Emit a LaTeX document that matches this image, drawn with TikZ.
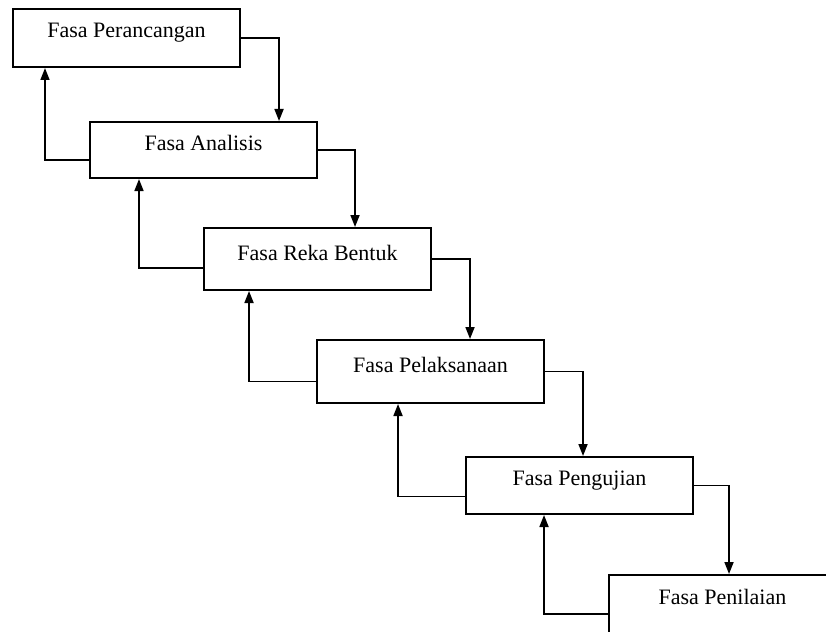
\documentclass[tikz,border=0pt]{standalone}
\usepackage{fontspec}
\setmainfont{Liberation Serif}
\usepackage{tikz}
\usetikzlibrary{arrows.meta}

\begin{document}
\begin{tikzpicture}[x=1pt, y=-1pt,
phasenode/.style={rectangle, draw=black, fill=white, line width=2pt, inner sep=0pt, anchor=north west,
  minimum width=227pt, text height=29pt, text depth=29pt, font=\fontsize{22}{26}\selectfont},
flowline/.style={line width=1.7pt, -{Triangle[length=12pt,width=9pt]}},
]
\useasboundingbox (0,0) rectangle (826,631);
\clip (0,0) rectangle (826,631);
%Nodes
\node[phasenode]      (rancang)     at (12,8)       {Fasa Perancangan};
\node[phasenode, text depth=27pt]      (analisis)    at (89,121)     {Fasa Analisis};
\node[phasenode, text height=32pt, text depth=30pt]      (reka)        at (203,227)    {Fasa Reka Bentuk};
\node[phasenode, text height=32pt, text depth=31pt]      (laksana)     at (316,339)    {Fasa Pelaksanaan};
\node[phasenode, text height=28pt, text depth=29pt]      (uji)         at (465,456)    {Fasa Pengujian};
\node[phasenode]      (nilai)       at (608,574)    {Fasa Penilaian};

%Lines
\draw[flowline] (rancang.east) -| ([xshift=38pt]rancang.east |- analisis.north);
\draw[flowline] (analisis.east) -| ([xshift=37pt]analisis.east |- reka.north);
\draw[flowline] (reka.east) -| ([xshift=38pt]reka.east |- laksana.north);
\draw[flowline] (laksana.east) -| ([xshift=38pt]laksana.east |- uji.north);
\draw[flowline] (uji.east) -| ([xshift=35pt]uji.east |- nilai.north);
\draw[flowline] ([yshift=-10pt]analisis.west) -| ([xshift=33pt]rancang.south west);
\draw[flowline] ([yshift=-9pt]reka.west) -| ([xshift=50pt]analisis.south west);
\draw[flowline] ([yshift=-10pt]laksana.west) -| ([xshift=46pt]reka.south west);
\draw[flowline] ([yshift=-11pt]uji.west) -| ([xshift=82pt]laksana.south west);
\draw[flowline] ([yshift=-10pt]nilai.west) -| ([xshift=79pt]uji.south west);
\end{tikzpicture}
\end{document}
